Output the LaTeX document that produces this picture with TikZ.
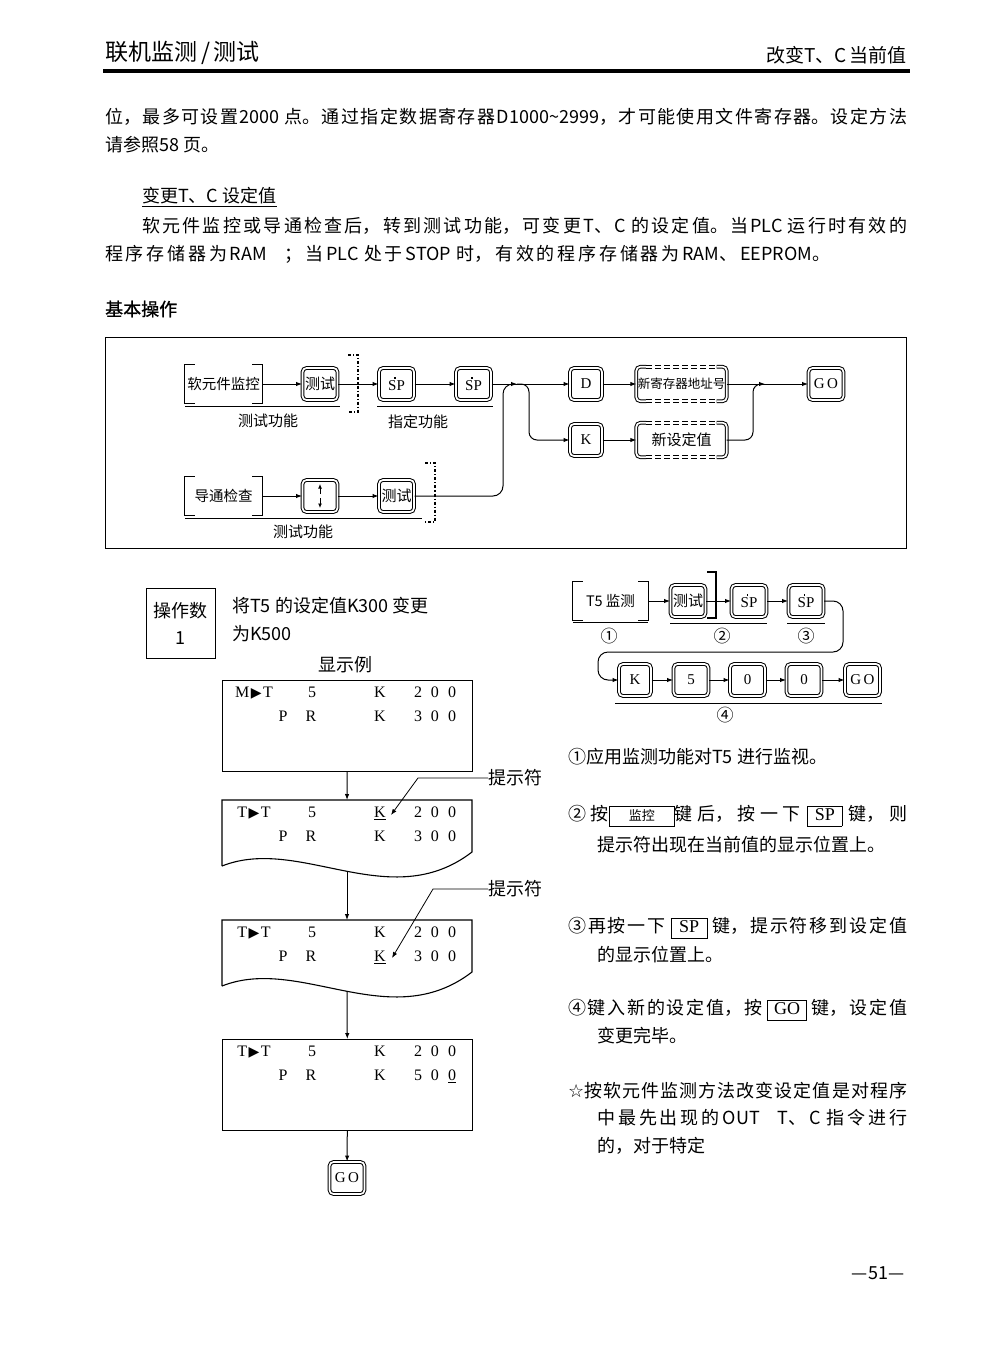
\documentclass[tikz,border=0pt]{standalone}
\usepackage{fontspec}
\setmainfont{Noto Sans CJK SC}
\newfontfamily\lserif{Liberation Serif}
\newfontfamily\dejavu{DejaVu Sans}
\newfontfamily\cjkbold[FakeBold=1]{Noto Sans CJK SC}
\XeTeXlinebreaklocale "zh"
\XeTeXlinebreakskip=0pt plus 4pt minus 0.5pt
\usetikzlibrary{arrows.meta, positioning, calc}

\newcommand{\fsz}[1]{\fontsize{#1}{#1}\selectfont}
\newcommand{\jline}[2]{\parbox{#1pt}{\parfillskip=0pt #2}}
\newcommand{\ibox}[2]{{\fboxsep=1pt\fboxrule=0.8pt\framebox[#1pt]{\rule[-4pt]{0pt}{17pt}#2}}}
\newcommand{\SPdot}{{\lserif\rlap{\hspace{6pt}\rule[12pt]{1.5pt}{1.5pt}}SP}}
\newcommand{\dgap}{\hspace{9pt}}

\newcommand{\brackets}[1]{%
  \draw[bline] ([xshift=10pt]#1.north west) -- (#1.north west) -- (#1.south west) -- ([xshift=10pt]#1.south west);
  \draw[bline] ([xshift=-10pt]#1.north east) -- (#1.north east) -- (#1.south east) -- ([xshift=-10pt]#1.south east);}

\newcommand{\dashedkey}[1]{%
  \draw[kline, rounded corners=4pt] ([xshift=10pt]#1.north west) -- (#1.north west) -- (#1.south west) -- ([xshift=10pt]#1.south west);
  \draw[kline, rounded corners=4pt] ([xshift=-10pt]#1.north east) -- (#1.north east) -- (#1.south east) -- ([xshift=-10pt]#1.south east);
  \draw[kline, dash pattern=on 6pt off 3pt] ([xshift=10pt]#1.north west) -- ([xshift=-10pt]#1.north east);
  \draw[kline, dash pattern=on 6pt off 3pt] ([xshift=10pt]#1.south west) -- ([xshift=-10pt]#1.south east);}

\newcommand{\panelrows}[6]{%
  \node[dtext] (#1a) at (254,#2+12) {#3\hspace{1.5pt}{\dejavu\fsz{14}▶}\hspace{1.5pt}T};
  \node[dtext] (#1b) at (312,#2+12) {5};
  \node[dtext] (#1c) at (380,#2+12) {#4};
  \node[dtext] (#1d) at (435,#2+12) {2\dgap0\dgap0};
  \node[dtext] (#1e) at (283,#2+36) {P};
  \node[dtext] (#1f) at (311,#2+36) {R};
  \node[dtext] (#1g) at (380,#2+36) {#5};
  \node[dtext] (#1h) at (435,#2+36) {#6};}

\begin{document}
\begin{tikzpicture}[x=1pt, y=-1pt,
    line/.style={line width=1pt},
    arr/.style={line width=1pt, -{Latex[length=6pt, width=4.5pt]}},
    bline/.style={line width=1.1pt},
    kline/.style={line width=1pt, double, double distance=1.7pt},
    key/.style={kline, draw, rounded corners=4pt, minimum width=35, minimum height=32,
                inner sep=1pt, font=\fsz{15}},
    lkey/.style={key, font=\lserif\fsz{15}},
    brk/.style={minimum width=77, minimum height=38, inner sep=0pt, font=\fsz{14.5}},
    dbox/.style={minimum width=90, minimum height=34, inner sep=0pt},
    body/.style={inner sep=0pt, anchor=west, font=\fsz{18}},
    small/.style={inner sep=0pt, font=\fsz{15}},
    dtext/.style={inner sep=0pt, text height=11pt, text depth=0pt, font=\lserif\fsz{16}},
    panel/.style={draw, line width=1.1pt, minimum width=250, minimum height=91, inner sep=0pt}
  ]
  \fill[white] (0,0) rectangle (992,1346);
  \useasboundingbox (0,0) rectangle (992,1346);

  \node[anchor=west, inner sep=0pt, font=\fsz{23}] (title) at (105,53) {联机监测\,/\,测试};
  \node[anchor=east, inner sep=0pt, font=\fsz{19}] (sect) at (907,55) {改变T、C\,当前值};
  \draw[line width=3pt] (103,71) -- (910,71);

  \node[body] (par1a) at (105,117) {\jline{802}{位，最多可设置2000 点。通过指定数据寄存器D1000\textasciitilde2999，才可能使用文件寄存器。设定方法}};
  \node[body] (par1b) at (105,145) {请参照58 页。};
  \node[body] (par2h) at (142,197) {\underline{变更T、C 设定值}};
  \node[body] (par2a) at (142,226) {\jline{765}{软元件监控或导通检查后，转到测试功能，可变更T、C 的设定值。当PLC 运行时有效的}};
  \node[body] (par2b) at (105,254) {\jline{725}{程序存储器为RAM\quad；当PLC 处于STOP 时，有效的程序存储器为RAM、EEPROM。}};
  \node[body, font=\cjkbold\fsz{18}] (basic) at (105,309) {基本操作};

  \node[draw, line width=1pt, minimum width=801, minimum height=211, inner sep=0pt,
        anchor=north west] (frame) at (105,337) {};

  \node[brk] (mon) at (223.5,384) {软元件监控};
  \node[key] (tst1) at (320,384) {测试};
  \node[lkey] (sp1) at (396.5,384) {\SPdot};
  \node[lkey] (sp2) at (473.5,384) {\SPdot};
  \node[lkey, minimum width=32] (dk) at (586,384) {D};
  \node[dbox] (nra) at (681.5,384) {\fsz{12.5}新寄存器地址号};
  \node[lkey] (gok) at (826,384) {G\,O};
  \node[lkey, minimum width=32] (kk1) at (586,440) {K};
  \node[dbox] (nsv) at (681.5,440) {\fsz{15}新设定值\hspace{20pt}};
  \node[brk] (chk) at (223.5,496) {导通检查};
  \node[key] (upd) at (320,496) {};
  \node[key] (tst2) at (396.5,496) {测试};
  \coordinate (j1) at (517,384);
  \coordinate (j2) at (765,384);

  \brackets{mon}
  \brackets{chk}
  \dashedkey{nra}
  \dashedkey{nsv}
  \draw[bline, dash dot] (348,355) -- (358,355) -- (358,412) -- (348,412);
  \draw[bline, dash dot] (425,463) -- (435,463) -- (435,522) -- (425,522);
  \draw[line width=1pt, -{Latex[length=4.5pt, width=4pt]}] ([yshift=2pt]upd.center) -- ([yshift=12pt]upd.center);
  \draw[line width=1pt, -{Latex[length=4.5pt, width=4pt]}] ([yshift=-2pt]upd.center) -- ([yshift=-12pt]upd.center);

  \draw[arr] (mon) -- (tst1);
  \draw[arr] (tst1) -- (sp1);
  \draw[arr] (sp1) -- (sp2);
  \draw[arr] (sp2) -- (dk);
  \draw[arr, rounded corners=8pt] (j1) -- ++(12,0) |- (kk1);
  \draw[arr] (dk) -- (nra);
  \draw[arr] (kk1) -- (nsv);
  \draw[arr] (nra) -- (gok);
  \draw[arr, rounded corners=8pt] (nsv) -| ([xshift=-12pt]j2) -- (j2);
  \draw[arr] (chk) -- (upd);
  \draw[arr] (upd) -- (tst2);
  \draw[arr, rounded corners=10pt] (tst2) -| ([xshift=-14pt]j1) -- (j1);

  \draw[line] (185,406) -- (340,406);
  \node[small] (lbl1) at (268,421) {测试功能};
  \draw[line] (377,406) -- (493,406);
  \node[small] (lbl2) at (418,422) {指定功能};
  \draw[line] (185,518) -- (422,518);
  \node[small] (lbl3) at (303,532) {测试功能};

  \node[draw, line width=1pt, minimum width=69, minimum height=70, inner sep=0pt, align=center,
        font=\fontsize{18}{27}\selectfont] (opbox) at (180.5,623) {操作数\\1};
  \node[body] (task1) at (232,606) {将T5 的设定值K300 变更};
  \node[body] (task2) at (232,634) {为K500};
  \node[body, anchor=center] (dispex) at (345,665) {显示例};

  \node[panel, anchor=north west] (pn1) at (222,680) {};
  \draw[line width=1.1pt] (222,866) -- (222,800) -- (472,800) -- (472,852)
    .. controls (390,915) and (300,835) .. (222,866);
  \draw[line width=1.1pt] (222,986) -- (222,920) -- (472,920) -- (472,972)
    .. controls (390,1035) and (300,955) .. (222,986);
  \node[panel, anchor=north west] (pn4) at (222,1039) {};
  \node[lkey] (go3) at (347,1178) {G\,O};
  \coordinate (pn2t) at (347,800);
  \coordinate (pn2b) at (347,871);
  \coordinate (pn3t) at (347,920);
  \coordinate (pn3b) at (347,991);

  \panelrows{pa}{680}{M}{K}{K}{3\dgap0\dgap0}
  \panelrows{pb}{800}{T}{\underline{K}}{K}{3\dgap0\dgap0}
  \panelrows{pc}{920}{T}{K}{\underline{K}}{3\dgap0\dgap0}
  \panelrows{pd}{1039}{T}{K}{K}{5\dgap0\dgap\underline{0}}

  \draw[arr] (pn1) -- (pn2t);
  \draw[arr] (pn2b) -- (pn3t);
  \draw[arr] (pn3b) -- (pn4);
  \draw[arr] (pn4) -- (go3);

  \node[body] (hint1) at (488,778) {提示符};
  \coordinate (h1) at (418,778);
  \coordinate (h1t) at (391,815);
  \draw[arr, line width=0.8pt] (hint1) -- (h1) -- (h1t);
  \node[body] (hint2) at (488,889) {提示符};
  \coordinate (h2) at (433,889);
  \coordinate (h2t) at (392,958);
  \draw[arr, line width=0.8pt] (hint2) -- (h2) -- (h2t);

  \node[brk, minimum width=75] (t5m) at (610.5,601) {T5 监测};
  \brackets{t5m}
  \node[key] (tst3) at (688,601) {测试};
  \draw[bline] (707,572) -- (716,572) -- (716,618) -- (707,618);
  \node[lkey] (sp3) at (749,601) {\SPdot};
  \node[lkey] (sp4) at (806,601) {\SPdot};
  \node[lkey, minimum width=32] (kk2) at (635,680) {K};
  \node[lkey] (k5) at (691,680) {5};
  \node[lkey] (k0a) at (747.5,680) {0};
  \node[lkey] (k0b) at (804,680) {0};
  \node[lkey] (go2) at (862.5,680) {G\,O};
  \coordinate (c1) at (843,652);
  \coordinate (c2) at (598,652);

  \draw[arr] (t5m) -- (tst3);
  \draw[arr] (tst3) -- (sp3);
  \draw[arr] (sp3) -- (sp4);
  \draw[arr, rounded corners=10pt] (sp4) -| (c1) -- (c2) |- (kk2);
  \draw[arr] (kk2) -- (k5);
  \draw[arr] (k5) -- (k0a);
  \draw[arr] (k0a) -- (k0b);
  \draw[arr] (k0b) -- (go2);

  \draw[line] (573,622) -- (648,622);
  \draw[line] (670,623) -- (767,623);
  \draw[line] (787,623) -- (825,623);
  \draw[line] (615,703) -- (882,703);
  \node[small, font=\fsz{17}] (n1) at (609,636) {①};
  \node[small, font=\fsz{17}] (n2) at (722,636) {②};
  \node[small, font=\fsz{17}] (n3) at (806,636) {③};
  \node[small, font=\fsz{17}] (n4) at (725,715) {④};

  \node[body] (st1) at (568,757) {①应用监测功能对T5 进行监视。};
  \node[body] (st2a) at (568,816) {\jline{339}{②按\ibox{66}{\fsz{13}监控}键后，按一下 \ibox{35}{\lserif SP} 键，则}};
  \node[body] (st2b) at (597,845) {提示符出现在当前值的显示位置上。};
  \node[body] (st3a) at (568,928) {\jline{339}{③再按一下 \ibox{37}{\lserif SP} 键，提示符移到设定值}};
  \node[body] (st3b) at (597,955) {的显示位置上。};
  \node[body] (st4a) at (568,1010) {\jline{339}{④键入新的设定值，按 \ibox{40}{\lserif GO} 键，设定值}};
  \node[body] (st4b) at (597,1036) {变更完毕。};
  \node[body] (st5a) at (568,1091) {\jline{339}{{\dejavu ☆}按软元件监测方法改变设定值是对程序}};
  \node[body] (st5b) at (597,1118) {\jline{310}{中最先出现的OUT\quad T、C 指令进行}};
  \node[body] (st5c) at (597,1146) {的，对于特定};
  \node[body, anchor=center] (pg) at (878,1273) {—51—};
\end{tikzpicture}
\end{document}
